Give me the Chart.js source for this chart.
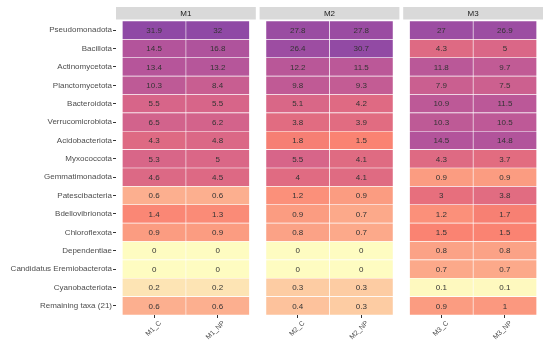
<!DOCTYPE html>
<html>
<head>
  <title>Phyla heatmap</title>
  <script src="https://cdn.jsdelivr.net/npm/chart.js"></script>
  <style>
    body { margin: 0; background: #fff; }
    #wrap { position: relative; width: 550px; height: 343px; }
  </style>
</head>
<body>
  <div id="wrap"><canvas id="heat"></canvas></div>
  <script>
    const taxa = ["Pseudomonadota", "Bacillota", "Actinomycetota", "Planctomycetota", "Bacteroidota",
      "Verrucomicrobiota", "Acidobacteriota", "Myxococcota", "Gemmatimonadota", "Patescibacteria",
      "Bdellovibrionota", "Chloroflexota", "Dependentiae", "Candidatus Eremiobacterota",
      "Cyanobacteriota", "Remaining taxa (21)"];
    const panels = ["M1", "M2", "M3"];
    const columns = ["M1_C", "M1_NP", "M2_C", "M2_NP", "M3_C", "M3_NP"];

    const M1_C  = [31.9, 14.5, 13.4, 10.3, 5.5, 6.5, 4.3, 5.3, 4.6, 0.6, 1.4, 0.9, 0, 0, 0.2, 0.6];
    const M1_NP = [32, 16.8, 13.2, 8.4, 5.5, 6.2, 4.8, 5, 4.5, 0.6, 1.3, 0.9, 0, 0, 0.2, 0.6];
    const M2_C  = [27.8, 26.4, 12.2, 9.8, 5.1, 3.8, 1.8, 5.5, 4, 1.2, 0.9, 0.8, 0, 0, 0.3, 0.4];
    const M2_NP = [27.8, 30.7, 11.5, 9.3, 4.2, 3.9, 1.5, 4.1, 4.1, 0.9, 0.7, 0.7, 0, 0, 0.3, 0.3];
    const M3_C  = [27, 4.3, 11.8, 7.9, 10.9, 10.3, 14.5, 4.3, 0.9, 3, 1.2, 1.5, 0.8, 0.7, 0.1, 0.9];
    const M3_NP = [26.9, 5, 9.7, 7.5, 11.5, 10.5, 14.8, 3.7, 0.9, 3.8, 1.7, 1.5, 0.8, 0.7, 0.1, 1];
    const series = [M1_C, M1_NP, M2_C, M2_NP, M3_C, M3_NP];

    // colour ramp (value -> rgb)
    const ramp = [
      [0, [254, 252, 193]], [0.1, [254, 249, 191]], [0.2, [253, 228, 180]], [0.3, [253, 204, 163]],
      [0.6, [252, 175, 143]], [0.9, [251, 156, 129]], [1.5, [250, 131, 114]], [3, [231, 111, 125]],
      [4.3, [222, 106, 131]], [5.5, [215, 101, 137]], [10, [191, 90, 150]], [14.5, [179, 84, 155]],
      [27, [156, 77, 162]], [32, [143, 73, 165]]
    ];
    function colorFor(v) {
      for (let i = 1; i < ramp.length; i++) {
        if (v <= ramp[i][0]) {
          const [a, ca] = ramp[i - 1], [b, cb] = ramp[i];
          const t = (v - a) / (b - a);
          const c = ca.map((x, k) => Math.round(x + (cb[k] - x) * t));
          return `rgb(${c[0]},${c[1]},${c[2]})`;
        }
      }
      const c = ramp[ramp.length - 1][1];
      return `rgb(${c[0]},${c[1]},${c[2]})`;
    }

    // layout of facets in x units (one unit = one column)
    const pitch = 2.26, span = 2.2, pad = 0.1;
    const colStart = i => Math.floor(i / 2) * pitch + pad + (i % 2);
    const tickPos = columns.map((c, i) => colStart(i) + 0.5);

    const datasets = series.map((vals, i) => ({
      label: columns[i],
      data: vals.map(() => [colStart(i), colStart(i) + 1]),
      backgroundColor: vals.map(colorFor),
      borderColor: '#ffffff',
      borderWidth: 0.6,
      borderSkipped: false,
      barPercentage: 1,
      categoryPercentage: 1,
      grouped: false
    }));

    const facetPlugin = {
      id: 'facets',
      beforeDatasetsDraw(chart) {
        const ctx = chart.ctx, xs = chart.scales.x, top = chart.chartArea.top;
        ctx.save();
        panels.forEach((p, k) => {
          const x0 = xs.getPixelForValue(k * pitch), x1 = xs.getPixelForValue(k * pitch + span);
          ctx.fillStyle = '#d9d9d9';
          ctx.fillRect(x0, 7, x1 - x0, 12.5);
          ctx.fillStyle = '#1a1a1a';
          ctx.font = '8px "Liberation Sans", Arial, sans-serif';
          ctx.textAlign = 'center';
          ctx.textBaseline = 'middle';
          ctx.fillText(p, (x0 + x1) / 2, 13.5);
        });
        ctx.restore();
      },
      afterDatasetsDraw(chart) {
        const ctx = chart.ctx;
        ctx.save();
        ctx.fillStyle = '#333333';
        ctx.font = '8px "Liberation Sans", Arial, sans-serif';
        ctx.textAlign = 'center';
        ctx.textBaseline = 'middle';
        chart.data.datasets.forEach((ds, i) => {
          chart.getDatasetMeta(i).data.forEach((el, j) => {
            ctx.fillText(String(series[i][j]), (el.x + el.base) / 2, el.y + 0.5);
          });
        });
        ctx.restore();
      }
    };

    new Chart(document.getElementById('heat'), {
      type: 'bar',
      data: { labels: taxa, datasets: datasets },
      plugins: [facetPlugin],
      options: {
        indexAxis: 'y',
        responsive: true,
        maintainAspectRatio: false,
        animation: false,
        layout: { padding: { top: 21, right: 7, left: 0, bottom: 0 } },
        plugins: { legend: { display: false }, tooltip: { enabled: false } },
        scales: {
          x: {
            type: 'linear',
            min: 0,
            max: 2 * pitch + span,
            border: { display: false },
            grid: { drawOnChartArea: false, tickLength: 3, tickColor: '#333' },
            afterBuildTicks: s => { s.ticks = tickPos.map(v => ({ value: v })); },
            afterFit: s => { s.height = 28; },
            ticks: {
              autoSkip: false,
              minRotation: 45,
              maxRotation: 45,
              labelOffset: 6,
              padding: 1,
              color: '#4d4d4d',
              font: { family: '"Liberation Sans", Arial, sans-serif', size: 7 },
              callback: (v, i) => columns[i]
            }
          },
          y: {
            type: 'category',
            border: { display: false },
            grid: { drawOnChartArea: false, offset: false, tickLength: 3, tickColor: '#333' },
            afterFit: s => { s.width = 116; },
            ticks: {
              autoSkip: false,
              padding: 1,
              color: '#4d4d4d',
              font: { family: '"Liberation Sans", Arial, sans-serif', size: 8 }
            }
          }
        }
      }
    });
  </script>
</body>
</html>
